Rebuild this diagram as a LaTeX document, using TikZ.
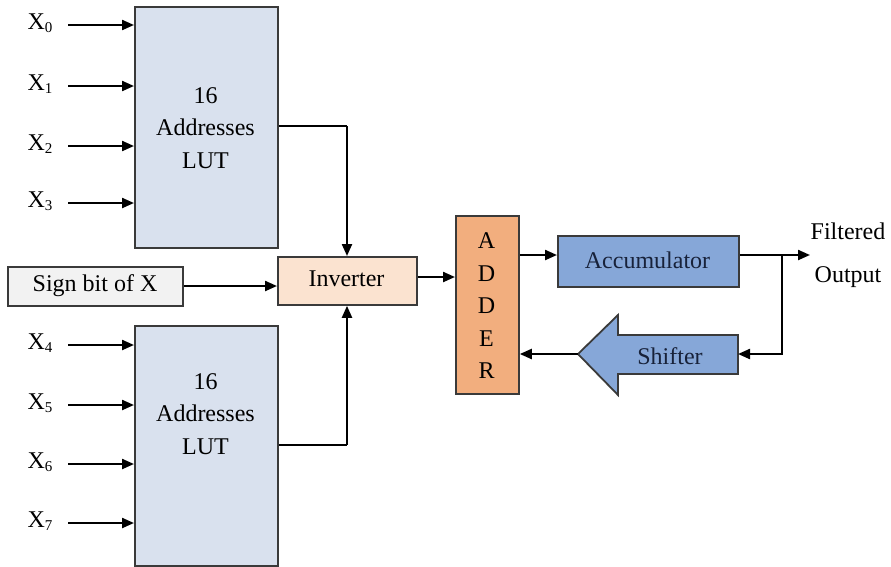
\documentclass[tikz,border=0pt]{standalone}
\usepackage{fontspec}
\setmainfont{Liberation Serif}
\usetikzlibrary{arrows.meta}
\definecolor{lutfill}{HTML}{D9E1EE}
\definecolor{signfill}{HTML}{F2F2F2}
\definecolor{invfill}{HTML}{FBE3D0}
\definecolor{addfill}{HTML}{F2AE7E}
\definecolor{accfill}{HTML}{86A7D8}
\definecolor{boxline}{HTML}{3A3A3A}
\definecolor{acctext}{HTML}{18223A}
\begin{document}
\begin{tikzpicture}[x=1pt,y=-1pt,
  font=\fontsize{24}{32.5}\selectfont,
  blk/.style={draw=boxline,line width=1.8pt},
  arr/.style={line width=2.2pt,-{Triangle[length=12pt,width=10pt]}},
  ln/.style={line width=2.2pt}]
\useasboundingbox (0,0) rectangle (891,566);
% LUTs
\node[blk,fill=lutfill,minimum width=143pt,minimum height=241pt,anchor=north west] (lut1) at (134,6) {};
\node[blk,fill=lutfill,minimum width=143pt,minimum height=240pt,anchor=north west] (lut2) at (134,325) {};
\node[align=center] (lut1t) at (205.5,128) {16\\Addresses\\LUT};
\node[align=center] (lut2t) at (205.5,414) {16\\Addresses\\LUT};
% inputs
\foreach \i/\y in {0/25,1/86,2/146,3/203}{
  \node (x\i) at (40,\y-2) {X\raisebox{-0.25ex}{\fontsize{15}{15}\selectfont\i}};
  \coordinate (xs\i) at (68,\y);
  \draw[arr] (xs\i) -- (lut1.west |- xs\i);
}
\foreach \i/\y in {4/345,5/405,6/464,7/523}{
  \node (x\i) at (40,\y-2) {X\raisebox{-0.25ex}{\fontsize{15}{15}\selectfont\i}};
  \coordinate (xs\i) at (68,\y);
  \draw[arr] (xs\i) -- (lut2.west |- xs\i);
}
% sign bit
\node[blk,fill=signfill,minimum width=175pt,minimum height=39pt,anchor=north west] (sign) at (7,266) {};
\node (signt) at (95,286) {Sign bit of X};
% inverter
\node[blk,fill=invfill,minimum width=139pt,minimum height=48pt,anchor=north west] (inv) at (277,256) {};
\node (invt) at (346.5,279) {Inverter};
% adder
\node[blk,fill=addfill,minimum width=63pt,minimum height=178pt,anchor=north west] (add) at (455,215) {};
\node[align=center] (addt) at (486.5,306) {A\\D\\D\\E\\R};
% accumulator
\node[blk,fill=accfill,minimum width=181pt,minimum height=51pt,anchor=north west] (acc) at (557,235) {};
\node[text=acctext] (acct) at (647.5,260) {Accumulator};
% shifter arrow shape
\draw[blk,fill=accfill] (578,354) -- (618,315) -- (618,335) -- (738,335) -- (738,374) -- (618,374) -- (618,395) -- cycle;
\coordinate (shtip) at (578,354);
\coordinate (shtail) at (738,354);
\node[text=acctext] (sht) at (670,356) {Shifter};
% output text
\node[align=center,font=\fontsize{24}{43}\selectfont] (outt) at (848,255) {Filtered\\Output};
% connectors
\coordinate (j1) at (347,126);
\coordinate (j2) at (347,445);
\draw[ln] (lut1.east |- j1) -- (j1);
\draw[arr] (j1) -- (j1 |- inv.north);
\draw[ln] (lut2.east |- j2) -- (j2);
\draw[arr] (j2) -- (j2 |- inv.south);
\draw[arr] (sign.east |- 0,286) -- (inv.west |- 0,286);
\draw[arr] (inv.east |- 0,277) -- (add.west |- 0,277);
\draw[arr] (add.east |- 0,255) -- (acc.west |- 0,255);
\coordinate (br) at (782,255);
\coordinate (out) at (810,255);
\draw[arr] (acc.east |- br) -- (out);
\draw[arr] (br) |- (shtail);
\draw[arr] (shtip) -- (add.east |- shtip);
\end{tikzpicture}
\end{document}
